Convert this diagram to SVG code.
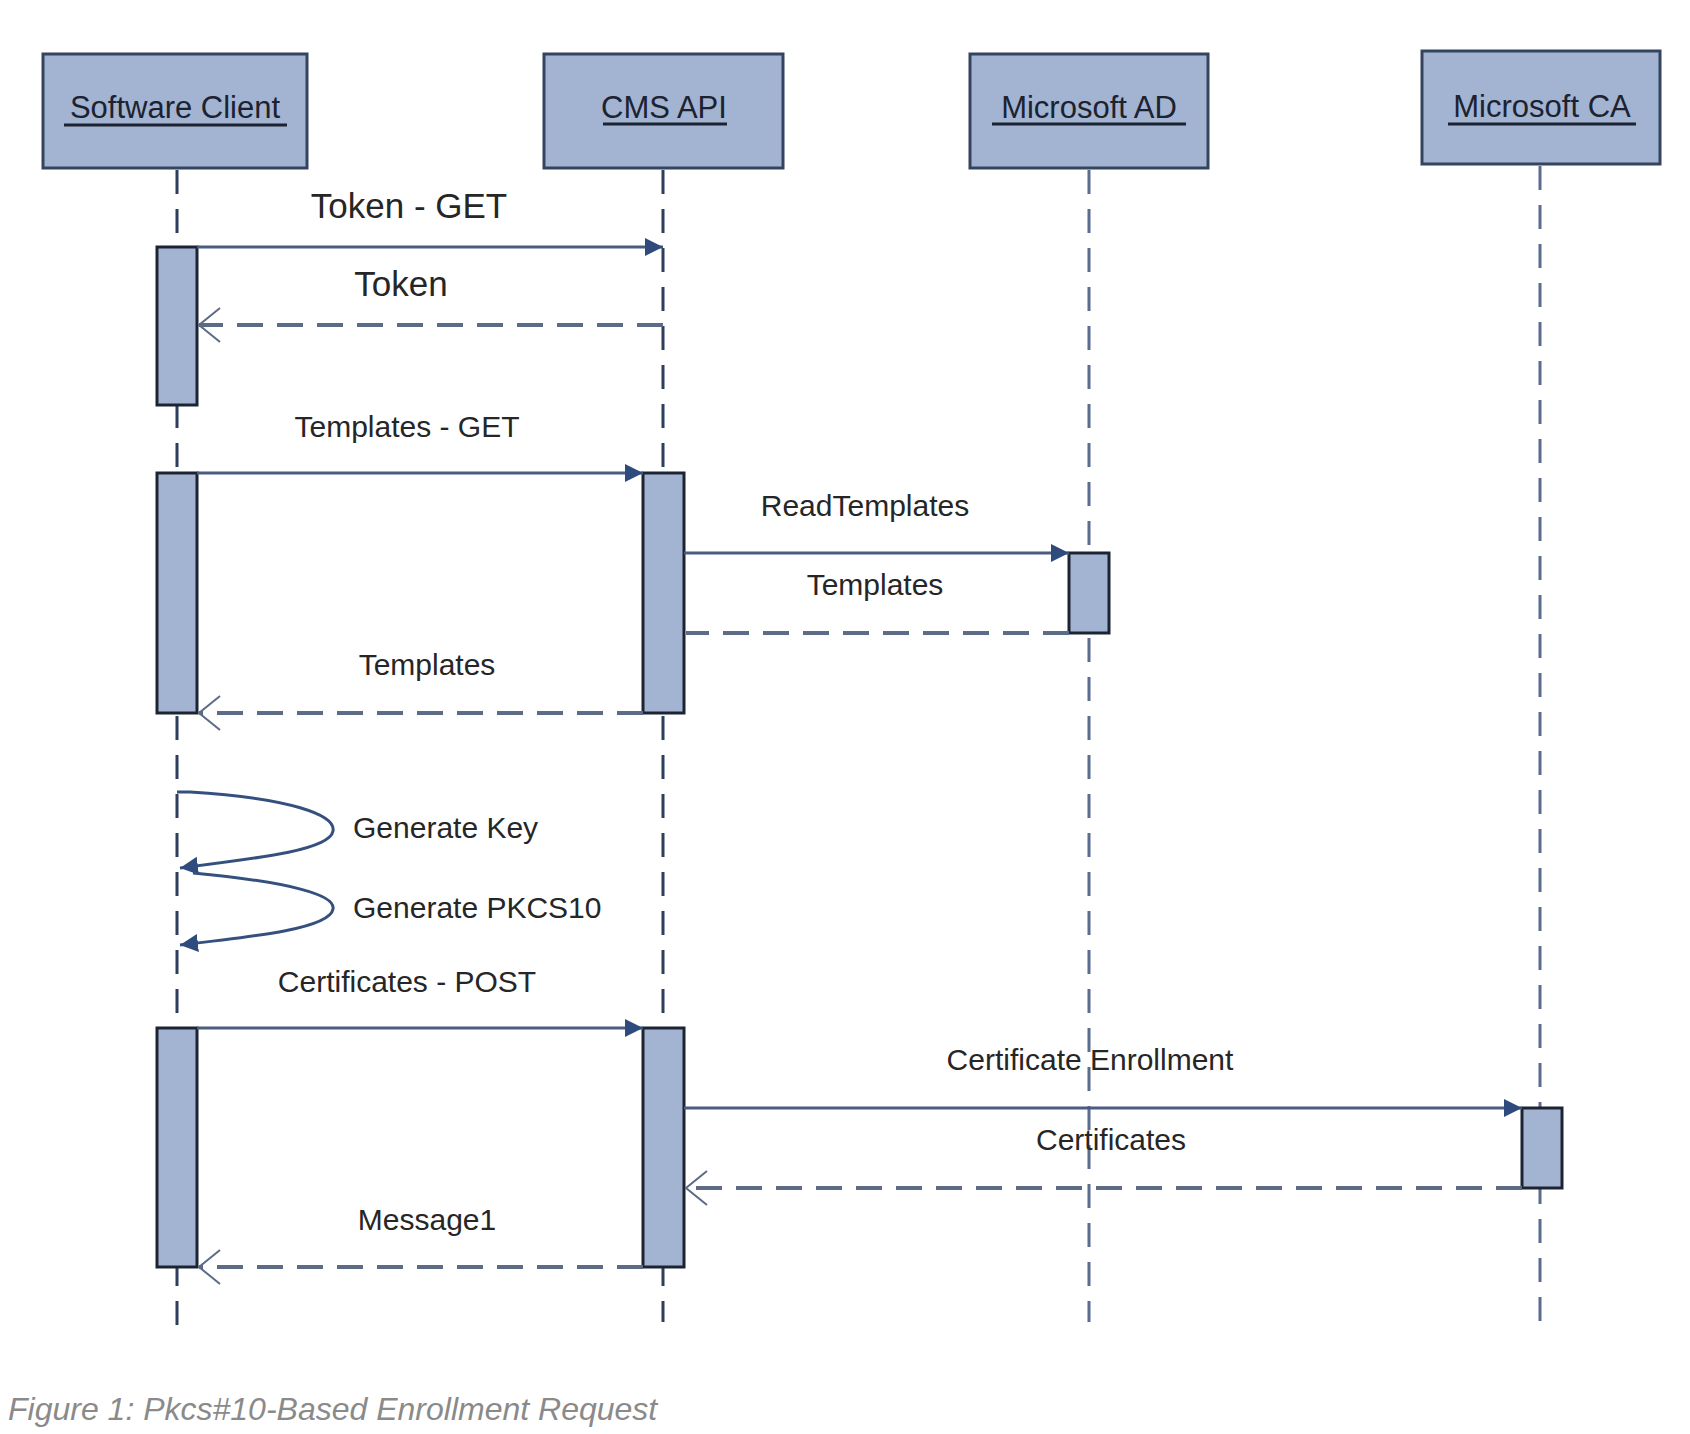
<svg xmlns="http://www.w3.org/2000/svg" width="1690" height="1434" viewBox="0 0 1690 1434">
<style>
.actor{fill:#a2b4d1;stroke:#34445f;stroke-width:3}
.act{fill:#a2b4d1;stroke:#1c2433;stroke-width:3}
.name{font-family:"Liberation Sans",Arial,sans-serif;font-size:31px;fill:#1c2230;text-anchor:middle}
.ul{stroke:#1c2230;stroke-width:3}
.life{stroke:#5a6d8f;stroke-width:3;stroke-dasharray:24 15;fill:none}
.lifed{stroke:#2e3f5e;stroke-width:3;stroke-dasharray:24 15;fill:none}
.msg{stroke:#4a5d80;stroke-width:3;fill:none}
.ret{stroke:#5c6b86;stroke-width:4;stroke-dasharray:26 14;fill:none}
.loop{stroke:#34507e;stroke-width:3;fill:none}
.lbl{font-family:"Liberation Sans",Arial,sans-serif;font-size:30px;fill:#262626;text-anchor:middle}
.start{text-anchor:start}
.big{font-size:35px}
.cap{font-family:"Liberation Sans",Arial,sans-serif;font-size:32px;font-style:italic;fill:#8a8a8a}
</style>
<defs>
<marker id="fill" markerUnits="userSpaceOnUse" markerWidth="20" markerHeight="20" viewBox="0 0 20 20" refX="18" refY="10" orient="auto">
<path d="M0,1 L18,10 L0,19 Z" fill="#2f4b7d"/>
</marker>
<marker id="open" markerUnits="userSpaceOnUse" markerWidth="26" markerHeight="40" viewBox="0 0 26 40" refX="25" refY="20" orient="auto">
<path d="M4,3 L25,20 L4,37" fill="none" stroke="#5c6b86" stroke-width="2"/>
</marker>
</defs>
<rect width="1690" height="1434" fill="#ffffff"/>

<g id="lifelines">
<line class="lifed" x1="177" y1="170" x2="177" y2="1334"/>
<line class="lifed" x1="663" y1="170" x2="663" y2="1322"/>
<line class="life" x1="1089" y1="170" x2="1089" y2="1322"/>
<line class="life" x1="1540" y1="166" x2="1540" y2="1322"/>
</g>

<g id="software-client">
<rect class="actor" x="43" y="54" width="264" height="114"/>
<text class="name" x="175" y="118">Software Client</text>
<line class="ul" x1="64" y1="125" x2="287" y2="125"/>
<rect class="act" x="157" y="247" width="40" height="158"/>
<rect class="act" x="157" y="473" width="40" height="240"/>
<rect class="act" x="157" y="1028" width="40" height="239"/>
</g>

<g id="cms-api">
<rect class="actor" x="544" y="54" width="239" height="114"/>
<text class="name" x="664" y="118">CMS API</text>
<line class="ul" x1="603" y1="124" x2="727" y2="124"/>
<rect class="act" x="643" y="473" width="41" height="240"/>
<rect class="act" x="643" y="1028" width="41" height="239"/>
</g>

<g id="microsoft-ad">
<rect class="actor" x="970" y="54" width="238" height="114"/>
<text class="name" x="1089" y="118">Microsoft AD</text>
<line class="ul" x1="992" y1="124" x2="1186" y2="124"/>
<rect class="act" x="1069" y="553" width="40" height="80"/>
</g>

<g id="microsoft-ca">
<rect class="actor" x="1422" y="51" width="238" height="113"/>
<text class="name" x="1542" y="117">Microsoft CA</text>
<line class="ul" x1="1448" y1="124" x2="1636" y2="124"/>
<rect class="act" x="1522" y="1108" width="40" height="80"/>
</g>

<g id="connectors">
<line class="msg" x1="197" y1="247" x2="663" y2="247" marker-end="url(#fill)"/>
<line class="ret" x1="663" y1="325" x2="199" y2="325" marker-end="url(#open)"/>
<line class="msg" x1="197" y1="473" x2="643" y2="473" marker-end="url(#fill)"/>
<line class="msg" x1="684" y1="553" x2="1069" y2="553" marker-end="url(#fill)"/>
<line class="ret" x1="1069" y1="633" x2="686" y2="633"/>
<line class="ret" x1="643" y1="713" x2="199" y2="713" marker-end="url(#open)"/>
<path class="loop" d="M177,792 L190,792 C290,798 336,815 333,831 C330,850 260,858 180,868" marker-end="url(#fill)"/>
<path class="loop" d="M193,873 C290,882 336,895 333,909 C330,928 260,936 180,945" marker-end="url(#fill)"/>
<line class="msg" x1="197" y1="1028" x2="643" y2="1028" marker-end="url(#fill)"/>
<line class="msg" x1="684" y1="1108" x2="1522" y2="1108" marker-end="url(#fill)"/>
<line class="ret" x1="1522" y1="1188" x2="686" y2="1188" marker-end="url(#open)"/>
<line class="ret" x1="643" y1="1267" x2="199" y2="1267" marker-end="url(#open)"/>
</g>

<g id="labels">
<text class="lbl big" x="409" y="218">Token - GET</text>
<text class="lbl big" x="401" y="296">Token</text>
<text class="lbl" x="407" y="437">Templates - GET</text>
<text class="lbl" x="865" y="516">ReadTemplates</text>
<text class="lbl" x="875" y="595">Templates</text>
<text class="lbl" x="427" y="675">Templates</text>
<text class="lbl start" x="353" y="838">Generate Key</text>
<text class="lbl start" x="353" y="918">Generate PKCS10</text>
<text class="lbl" x="407" y="992">Certificates - POST</text>
<text class="lbl" x="1090" y="1070">Certificate Enrollment</text>
<text class="lbl" x="1111" y="1150">Certificates</text>
<text class="lbl" x="427" y="1230">Message1</text>
</g>

<text class="cap" x="8" y="1420">Figure 1: Pkcs#10-Based Enrollment Request</text>
</svg>
